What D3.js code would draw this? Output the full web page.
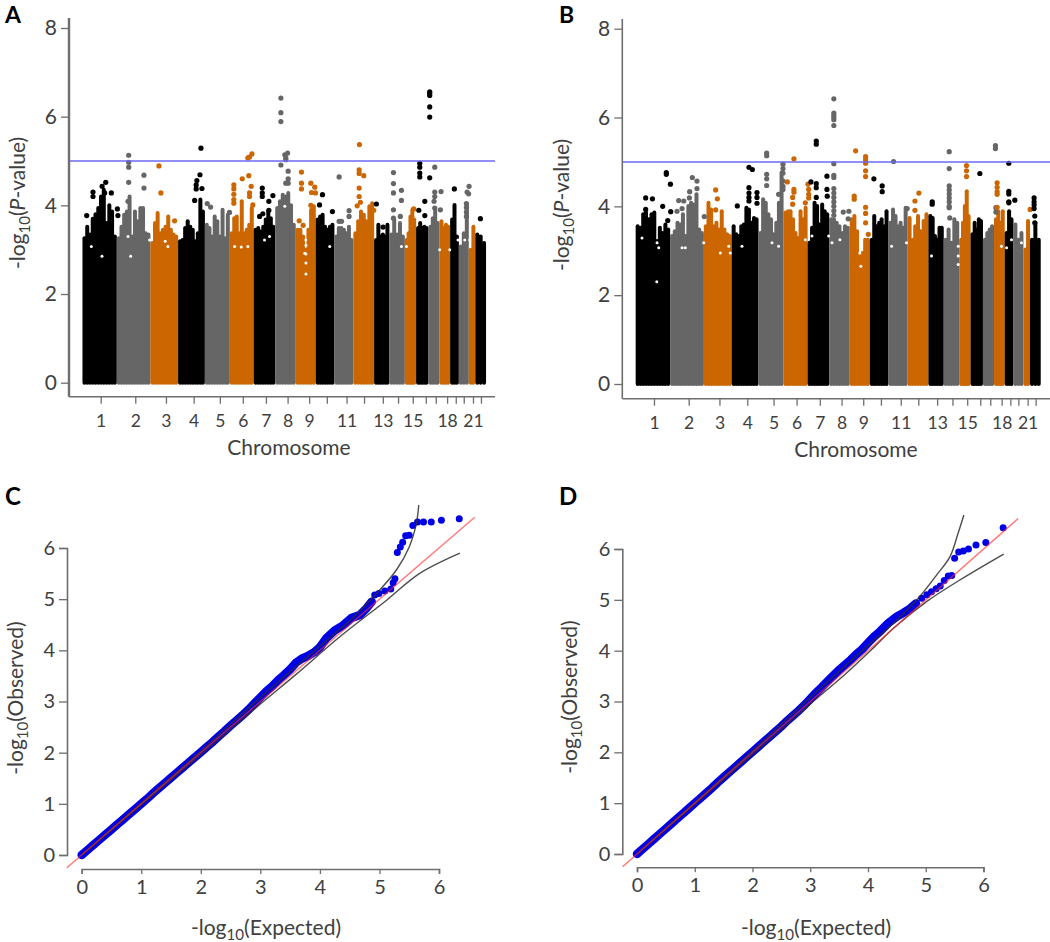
<!DOCTYPE html>
<html lang="en">
<head>
<meta charset="UTF-8">
<title>Manhattan and QQ plots</title>
<script src="https://cdn.jsdelivr.net/npm/d3@7"></script>
<style>
body { margin: 0; background: #fff; }
svg { display: block; }
text { font-family: Lato, "Open Sans", sans-serif; fill: #404040; }
</style>
</head>
<body>
<svg id="canvas" width="1050" height="942"></svg>
<script>
// chromosome widths on the genome axis, Mb
const chromLen = [245,240,198,191,178,171,154,146,143,133,136,148,109,110,81,88,79,76,62,71,47,76];
const tickPos = [130,377,596,794,981,1145,1310,1465,1619,1745,1886,2011,2145,2254,2359,2452,2523,2604,2666,2723,2789,2846];
const tickLabels = ['1','2','3','4','5','6','7','8','9','','11','','13','','15','','','18','','','21',''];
const threshold = 5;

// top of the dense column of points, per chromosome, left to right
const skylineA = [
  [3.26,3.52,3.34,3.7,3.8,3.94,4.2,4.35,3.6,4.0,3.86,3.3],
  [3.26,3.52,3.79,3.86,4.2,3.3,3.86,3.64,3.94,3.94,3.37,3.34],
  [3.15,3.6,3.83,3.37,3.45,3.52,3.75,3.45,3.34,3.3],
  [3.19,3.22,3.49,3.64,3.52,3.45,3.19,3.37,4.13,3.86],
  [3.56,3.49,3.3,3.75,3.64,3.3,3.9,3.26,3.79],
  [3.37,3.71,3.75,3.37,4.09,3.37,3.45,3.56,3.94],
  [3.45,3.49,3.41,3.52,3.68,3.86,3.71,3.52],
  [3.94,4.09,4.24,4.2,4.28,4.0,3.56],
  [3.45,3.45,3.3,3.0,3.45,3.9,3.98],
  [3.68,3.75,3.79,3.52,3.45,3.52,3.56],
  [3.3,3.49,3.49,3.45,3.37,3.52,3.22],
  [3.37,3.64,3.86,3.79,3.64,3.98,4.05],
  [3.22,3.56,3.3,3.34,3.3,3.56],
  [3.34,3.68,3.34,3.6,3.3],
  [3.22,3.37,3.75,3.9,3.68],
  [3.49,3.6,3.49,3.52,3.49],
  [3.52,3.71,3.9,3.6],
  [3.64,3.49,3.56,3.52],
  [3.68,4.01,3.3],
  [3.07,3.37,4.0],
  [3.0,3.52],
  [3.34,3.3,3.15]
];
const skylineB = [
  [3.55,3.52,3.82,3.86,3.71,3.82,3.86,3.22,3.52,3.4,3.59,3.48],
  [3.33,3.44,3.63,3.59,3.82,3.33,4.01,4.08,4.04,4.27,3.48,3.4],
  [3.55,4.08,3.93,3.55,3.63,3.48,3.89,3.48,3.37,3.33],
  [3.55,3.37,3.33,3.55,3.59,3.97,3.93,3.63,3.74,3.71],
  [3.4,4.16,4.08,3.82,3.71,3.37,3.63,4.08,4.76],
  [3.86,3.89,3.89,3.71,3.4,3.29,3.89,3.71,3.97],
  [3.18,3.52,4.08,4.01,3.59,4.04,3.89,3.82],
  [3.71,3.71,3.63,3.55,3.4,3.55,3.52],
  [3.71,3.78,3.44,2.88,2.95,3.25,3.25],
  [3.25,3.78,3.55,3.63,3.71,3.55,3.89],
  [3.63,3.93,3.78,3.55,3.63,3.52,3.97],
  [3.74,3.25,3.55,3.78,3.44,3.67,3.82],
  [3.78,3.74,3.33,3.25,3.52,3.52],
  [3.25,3.48,3.18,3.71,3.63],
  [3.25,3.63,4.01,4.34,3.78],
  [3.37,3.63,3.48,3.71,3.67],
  [3.25,3.4,3.48,3.55],
  [3.71,3.89,3.63,3.89],
  [3.4,3.89,3.71],
  [3.59,3.25,3.4],
  [3.03,3.67],
  [3.25,3.63,3.25]
];

// empty spots inside the point cloud: genome position (Mb), -log10 P
const gapsA = [
  [63,3.07],[139,2.85],[325,3.3],[344,2.85],[479,3.22],[456,3.49],[591,3.19],[610,3.07],[1086,3.07],[1134,3.06],[1181,3.07],[1300,3.22],[1336,3.3],
  [1445,3.98],[1588,2.92],[1595,3.22],[1596,3.1],[1596,2.9],[1596,2.7],[1596,2.45],[1766,3.07],[2278,3.07],[2314,3.07],[2551,3.0],[2623,3.0],[2682,3.22],[2730,3.22],[2766,3.22]
];
const gapsB = [
  [45,3.29],[152,3.18],[164,3.07],[150,2.3],[330,3.07],[353,3.07],[484,3.18],[602,2.95],[662,3.1],[673,2.95],[756,3.1],[970,3.18],[1017,3.1],[1207,3.25],[1254,3.33],[1373,3.33],[1397,3.18],
  [1453,3.25],[1595,2.95],[1602,2.65],[1607,3.1],[1821,3.1],[1927,3.18],[2105,2.88],[2295,3.1],[2295,2.88],[2295,2.69],[2603,3.1],[2639,3.07],[2674,3.25],[2745,3.18]
];

// separate points above the columns: chromosome, genome position (Mb), -log10 P
const hitsA = [
  [1,30,3.77],[1,75,4.3],[1,75,4.2],[1,166,4.52],[1,140,4.43],[1,158,4.28],[1,206,4.28],[1,253,3.77],[1,249,3.92],
  [2,330,5.13],[2,330,4.97],[2,330,4.86],[2,330,4.52],[2,439,4.68],[2,439,4.39],[2,325,4.09],
  [3,546,4.89],[3,560,4.28],[3,658,3.65],
  [4,846,5.29],[4,839,4.69],[4,817,4.56],[4,812,4.46],[4,812,4.37],[4,853,4.38],[4,801,4.11],
  [5,891,4.04],[5,915,3.96],[5,1050,3.84],
  [6,1081,4.46],[6,1081,4.37],[6,1081,4.25],[6,1081,4.13],[6,1081,4.05],[6,1141,4.6],[6,1188,4.67],[6,1205,4.43],[6,1193,4.28],[6,1193,4.2],[6,1217,4.01],[6,1193,5.09],[6,1210,5.16],[6,1181,5.07],
  [7,1284,4.39],[7,1284,4.28],[7,1284,4.2],[7,1331,4.09],[7,1331,3.89],[7,1265,3.75],[7,1288,3.81],[7,1360,4.22],
  [8,1417,6.42],[8,1417,6.09],[8,1417,5.89],[8,1417,4.91],[8,1445,5.14],[8,1465,5.18],[8,1452,5.07],[8,1452,5.03],[8,1469,4.77],[8,1469,4.6],[8,1469,4.5],[8,1452,4.5],
  [9,1564,4.75],[9,1564,4.5],[9,1564,4.37],[9,1548,3.65],[9,1576,3.55],[9,1631,4.5],[9,1659,4.41],[9,1636,4.29],[9,1664,4.28],[9,1631,4.0],
  [10,1714,4.24],[10,1693,4.01],[10,1785,3.86],
  [11,1833,4.64],[11,1833,3.64],[11,1850,3.64],[11,1904,3.88],[11,1904,3.75],
  [12,1978,5.37],[12,1976,4.8],[12,1976,4.72],[12,2009,4.67],[12,1976,4.39],[12,1976,4.2],[12,1962,3.99],[12,1985,4.07],[12,2080,3.89],
  [13,2099,4.03],[13,2147,3.51],
  [14,2221,4.74],[14,2221,4.49],[14,2221,4.28],[14,2221,3.9],[14,2221,3.71],[14,2278,4.34],[14,2278,4.11],[14,2270,3.75],
  [15,2366,3.92],
  [16,2409,4.95],[16,2409,4.86],[16,2409,4.73],[16,2409,4.64],[16,2480,4.62],[16,2445,4.09],[16,2402,3.89],[16,2445,3.77],
  [16,2480,6.56],[16,2480,6.53],[16,2480,6.48],[16,2480,6.22],[16,2480,5.99],
  [17,2516,4.86],[17,2516,4.3],[17,2516,4.2],[17,2511,4.09],[17,2516,3.94],[17,2561,4.31],[17,2556,3.9],
  [19,2656,4.37],
  [20,2742,4.04],[20,2742,3.95],[20,2742,3.85],[20,2742,3.75],[20,2747,4.3],[20,2761,4.43],[20,2758,4.26],
  [22,2842,3.7]
];
const hitsB = [
  [1,71,4.19],[1,119,4.17],[1,71,3.93],[1,192,4.0],[1,218,4.72],[1,218,4.76],[1,247,4.5],[1,249,3.88],[1,228,3.68],
  [2,306,4.13],[2,342,4.12],[2,330,3.95],[2,384,4.33],[2,382,4.19],[2,403,4.65],[2,436,4.57],[2,436,4.4],[2,294,3.89],[2,488,3.77],
  [3,569,4.37],[3,581,4.17],[3,569,3.92],
  [4,723,4.01],[4,806,4.42],[4,806,4.3],[4,806,4.2],[4,806,4.12],[4,863,4.31],[4,863,4.2],[4,863,4.07],[4,806,4.88],[4,830,4.83],
  [5,932,5.2],[5,932,5.14],[5,932,4.72],[5,932,4.62],[5,932,4.47],[5,1048,4.95],[5,1048,4.85],[5,1048,4.75],[5,1048,4.57],[5,1048,4.45],[5,1048,4.38],[5,1017,4.27],
  [6,1126,5.07],[6,1079,4.55],[6,1126,4.38],[6,1126,4.32],[6,1117,4.2],[6,1117,4.05],[6,1226,4.5],[6,1231,4.38],[6,1231,4.27],[6,1231,4.19],[6,1207,4.08],[6,1188,3.67],
  [7,1285,5.47],[7,1285,5.4],[7,1247,4.55],[7,1285,4.51],[7,1361,4.68],[7,1361,4.38],[7,1285,4.42],[7,1285,4.2],[7,1363,4.23],
  [8,1410,6.42],[8,1410,6.1],[8,1410,6.05],[8,1410,6.0],[8,1410,5.95],[8,1410,5.82],[8,1410,4.96],[8,1410,4.7],[8,1410,4.65],[8,1410,4.4],[8,1410,4.3],[8,1410,4.2],[8,1410,4.1],[8,1410,4.0],[8,1410,3.9],[8,1410,3.8],[8,1477,3.87],[8,1517,3.89],[8,1512,3.72],
  [9,1565,5.25],[9,1636,5.12],[9,1636,5.05],[9,1636,4.97],[9,1636,4.8],[9,1636,4.67],[9,1555,4.23],[9,1555,4.16],[9,1636,3.98],[9,1636,3.84],[9,1636,3.63],[9,1655,3.37],
  [10,1695,4.62],[10,1754,4.46],[10,1754,4.33],
  [11,1835,5.01],[11,1932,3.95],
  [12,2015,4.3],[12,1987,4.12],[12,1987,3.91],
  [13,2110,4.1],[13,2110,4.05],
  [14,2231,5.23],[14,2231,4.85],[14,2231,4.46],[14,2231,4.37],[14,2231,4.28],[14,2231,4.19],[14,2231,4.1],[14,2231,4.0],[14,2231,3.97],[14,2235,3.74],
  [15,2354,4.92],[15,2354,4.8],[15,2354,4.67],
  [16,2449,4.74],
  [17,2560,5.37],[17,2560,5.3],[17,2563,3.97],[17,2563,3.87],
  [18,2572,4.53],[18,2572,4.43],[18,2572,4.33],[18,2572,4.27],[18,2572,3.98],
  [19,2655,4.97],[19,2655,4.34],[19,2655,4.28],[19,2655,4.1],[19,2655,4.08],[19,2698,4.14],
  [21,2807,3.93],
  [22,2835,4.19],[22,2835,4.1],[22,2835,4.03],[22,2835,3.95],[22,2840,3.78],[22,2840,3.63]
];

// QQ plots
const expectedC = [0,0.1,0.2,0.3,0.4,0.5,0.6,0.7,0.8,0.9,1,1.1,1.2,1.3,1.4,1.5,1.6,1.7,1.8,1.9,2,2.1,2.2,2.3,2.4,2.5,2.6,2.7,2.8,2.9,3,3.1,3.2,3.3,3.4,3.5,3.6,3.7,3.8,3.9,4,4.11,4.25,4.39,4.53,4.67,4.78,4.87,4.92,4.99,5.09,5.19,5.23,5.26,5.3,5.35,5.39,5.44,5.5,5.56,5.64,5.74,5.87,6.04,6.34];
const observedC = [0,0.1,0.2,0.3,0.4,0.5,0.6,0.7,0.8,0.9,1,1.1,1.21,1.31,1.41,1.51,1.61,1.71,1.81,1.91,2.01,2.11,2.21,2.32,2.42,2.53,2.63,2.73,2.84,2.96,3.08,3.2,3.3,3.42,3.52,3.63,3.76,3.84,3.89,3.96,4.06,4.24,4.39,4.49,4.63,4.69,4.82,4.95,5.08,5.11,5.16,5.2,5.32,5.4,5.91,6.02,6.11,6.24,6.25,6.44,6.51,6.51,6.51,6.54,6.57];
const expectedD = [0,0.1,0.2,0.3,0.4,0.5,0.6,0.7,0.8,0.9,1,1.1,1.2,1.3,1.4,1.5,1.6,1.7,1.8,1.9,2,2.1,2.2,2.3,2.4,2.5,2.6,2.7,2.8,2.9,3,3.1,3.2,3.3,3.4,3.5,3.6,3.7,3.8,3.9,3.98,4.1,4.21,4.35,4.5,4.62,4.73,4.83,4.93,5.02,5.1,5.18,5.25,5.32,5.39,5.45,5.5,5.57,5.65,5.74,5.87,6.04,6.34];
const observedD = [0,0.1,0.2,0.3,0.4,0.5,0.6,0.7,0.8,0.9,1,1.1,1.2,1.3,1.41,1.51,1.61,1.71,1.81,1.91,2.01,2.11,2.21,2.31,2.41,2.51,2.62,2.72,2.82,2.93,3.05,3.17,3.28,3.4,3.51,3.62,3.72,3.82,3.93,4.03,4.13,4.27,4.38,4.54,4.67,4.75,4.83,4.93,5.03,5.1,5.16,5.22,5.27,5.38,5.47,5.48,5.82,5.94,5.96,6.0,6.08,6.13,6.42];
const refLine = [-0.25,6.6];
const upperEC = [0,2,3,4,4.55,4.95,5.285,5.5,5.62,5.66];
const upperOC = [0,2.03,3.08,4.08,4.63,5.11,5.57,6.02,6.48,6.84];
const lowerEC = [0,1,2,3,3.6,4.33,5.12,5.67,6.35];
const lowerOC = [0,0.98,1.96,2.95,3.53,4.26,4.98,5.5,5.9];
const upperED = [0,2,3,4,4.45,4.87,5.19,5.42,5.56,5.66];
const upperOD = [0,2.03,3.08,4.1,4.55,5.03,5.49,5.85,6.31,6.67];
const lowerED = [0,1,2,3,3.6,4.09,4.44,5.02,5.59,6.35];
const lowerOD = [0,0.98,1.96,2.95,3.53,4.05,4.44,4.97,5.39,5.9];

const colors = ['#000000', '#666666', '#cc6600'];
const axisColor = '#6e6e6e';
const svg = d3.select('#canvas');

// -log10(...) with a real subscript
function logLabel(sel, middle, italic) {
  sel.append('tspan').text('-log');
  sel.append('tspan').attr('dy', 5).attr('font-size', '0.72em').text('10');
  sel.append('tspan').attr('dy', -5).text('(');
  if (italic) sel.append('tspan').attr('font-style', 'italic').text(italic);
  sel.append('tspan').text(middle + ')');
}

function styleAxis(g, width) {
  g.selectAll('path').attr('stroke', axisColor).attr('stroke-width', width);
  g.selectAll('line').attr('stroke', axisColor).attr('stroke-width', 1.3);
  g.selectAll('text').attr('fill', '#404040');
}

function manhattan(p) {
  const x = d3.scaleLinear().domain([0, d3.sum(chromLen)]).range([p.x0, p.x1]);
  const y = d3.scaleLinear().domain([0, 8]).range([p.y0, p.y8]);
  const starts = d3.cumsum([0].concat(chromLen));
  const g = svg.append('g');

  p.skyline.forEach((tops, c) => {
    const inset = 14;
    const pos = d3.scaleLinear().domain([0, tops.length - 1])
      .range([starts[c] + inset, starts[c] + chromLen[c] - inset]);
    g.append('g').selectAll('line').data(tops).join('line')
      .attr('x1', (d, i) => x(pos(i))).attr('x2', (d, i) => x(pos(i)))
      .attr('y1', y(0)).attr('y2', d => y(d))
      .attr('stroke', colors[c % 3]).attr('stroke-width', 4).attr('stroke-linecap', 'round');
  });

  g.append('g').selectAll('circle').data(p.gaps).join('circle')
    .attr('cx', d => x(d[0])).attr('cy', d => y(d[1])).attr('r', 1.5).attr('fill', '#fff');

  g.append('g').selectAll('circle').data(p.hits).join('circle')
    .attr('cx', d => x(d[1])).attr('cy', d => y(d[2])).attr('r', 2.6)
    .attr('fill', d => colors[(d[0] - 1) % 3]);

  g.append('line').attr('x1', p.axisX).attr('x2', p.lineEnd).attr('y1', y(threshold)).attr('y2', y(threshold))
    .attr('stroke', '#6a6af5').attr('stroke-width', 1.6);

  const ya = g.append('g').attr('transform', `translate(${p.axisX},0)`)
    .call(d3.axisLeft(y).tickValues([0, 2, 4, 6, 8]).tickSize(8).tickPadding(4).tickFormat(d3.format('d')));
  ya.select('.domain').attr('d', `M0,${p.axisY}V${p.axisTop}`);
  styleAxis(ya, p.yAxisWidth);
  ya.selectAll('text').attr('font-size', 21).attr('font-family', 'Lato');

  const xa = g.append('g').attr('transform', `translate(0,${p.axisY})`)
    .call(d3.axisBottom(x).tickValues(tickPos).tickSize(7).tickPadding(11).tickFormat((d, i) => tickLabels[i]));
  xa.select('.domain').attr('d', `M${p.axisX},0H${p.lineEnd}`);
  styleAxis(xa, 1.6);
  xa.selectAll('text').attr('font-size', 17.5).attr('font-family', 'Lato');

  g.append('text').attr('x', p.titleX).attr('y', p.axisY + 58).attr('text-anchor', 'middle')
    .attr('font-size', 21).text('Chromosome');
  g.append('text').attr('transform', `translate(${p.labelX},${p.labelY}) rotate(-90)`)
    .attr('text-anchor', 'middle').attr('font-size', 21)
    .call(logLabel, '-value', 'P');
  g.append('text').attr('x', p.letterX).attr('y', 23).attr('font-size', 23).attr('font-weight', 700)
    .style('fill', '#000').text(p.letter);
}

function qq(p) {
  const x = d3.scaleLinear().domain([0, 6]).range([p.x0, p.x6]);
  const y = d3.scaleLinear().domain([0, 6]).range([p.y0, p.y6]);
  const g = svg.append('g');
  const pts = p.expected.map((e, i) => [e, p.observed[i]]);
  const line = d3.line().x(d => x(d[0])).y(d => y(d[1]));

  g.append('path').attr('d', line(pts.filter(d => d[0] < 4.9))).attr('fill', 'none')
    .attr('stroke', '#0000e6').attr('stroke-width', 8.5).attr('stroke-linecap', 'round');
  g.append('g').selectAll('circle').data(pts).join('circle')
    .attr('cx', d => x(d[0])).attr('cy', d => y(d[1])).attr('r', 3.5).attr('fill', '#0000e6');

  [[p.upperE, p.upperO], [p.lowerE, p.lowerO]].forEach(c => {
    const curve = d3.line().x(d => x(d[0])).y(d => y(d[1])).curve(d3.curveCatmullRom);
    g.append('path').attr('d', curve(c[0].map((e, i) => [e, c[1][i]]))).attr('fill', 'none')
      .attr('stroke', '#2e2e2e').attr('stroke-width', 1.4).attr('opacity', 0.85);
  });
  g.append('path').attr('d', line(refLine.map(v => [v, v]))).attr('fill', 'none')
    .attr('stroke', '#ff2a2a').attr('stroke-width', 1.5).attr('opacity', 0.62);

  const ya = g.append('g').attr('transform', `translate(${p.axisX},0)`)
    .call(d3.axisLeft(y).ticks(6).tickSize(8).tickPadding(4).tickFormat(d3.format('d')));
  styleAxis(ya, 1.6);
  ya.selectAll('text').attr('font-size', 20).attr('font-family', 'Lato');
  const xa = g.append('g').attr('transform', `translate(0,${p.axisY})`)
    .call(d3.axisBottom(x).ticks(6).tickSize(5).tickPadding(6).tickFormat(d3.format('d')));
  styleAxis(xa, 1.6);
  xa.selectAll('text').attr('font-size', 20).attr('font-family', 'Lato');

  g.append('text').attr('x', p.titleX).attr('y', 935).attr('text-anchor', 'middle')
    .attr('font-size', 21).call(logLabel, 'Expected');
  g.append('text').attr('transform', `translate(${p.labelX},${p.labelY}) rotate(-90)`)
    .attr('text-anchor', 'middle').attr('font-size', 21).call(logLabel, 'Observed');
  g.append('text').attr('x', p.letterX).attr('y', 505).attr('font-size', 24).attr('font-weight', 700)
    .style('fill', '#000').text(p.letter);
}

manhattan({ letter: 'A', letterX: 5, skyline: skylineA, gaps: gapsA, hits: hitsA, x0: 82.5, x1: 486, y0: 382.7, y8: 28,
  axisX: 69, axisY: 396.7, axisTop: 18, lineEnd: 495, yAxisWidth: 2.4, titleX: 289, labelX: 25, labelY: 203 });
manhattan({ letter: 'B', letterX: 559, skyline: skylineB, gaps: gapsB, hits: hitsB, x0: 635.7, x1: 1040.7, y0: 384, y8: 28.7,
  axisX: 622.3, axisY: 398.7, axisTop: 19, lineEnd: 1050, yAxisWidth: 1.6, titleX: 856, labelX: 569, labelY: 205 });
qq({ letter: 'C', letterX: 5, expected: expectedC, observed: observedC, upperE: upperEC, upperO: upperOC, lowerE: lowerEC, lowerO: lowerOC,
  x0: 81.7, x6: 439, y0: 855, y6: 548, axisX: 67, axisY: 869, titleX: 266, labelX: 23, labelY: 698 });
qq({ letter: 'D', letterX: 559, expected: expectedD, observed: observedD, upperE: upperED, upperO: upperOD, lowerE: lowerED, lowerO: lowerOD,
  x0: 637, x6: 983.5, y0: 854, y6: 549, axisX: 622.3, axisY: 867.3, titleX: 816, labelX: 577, labelY: 697 });
</script>
</body>
</html>
